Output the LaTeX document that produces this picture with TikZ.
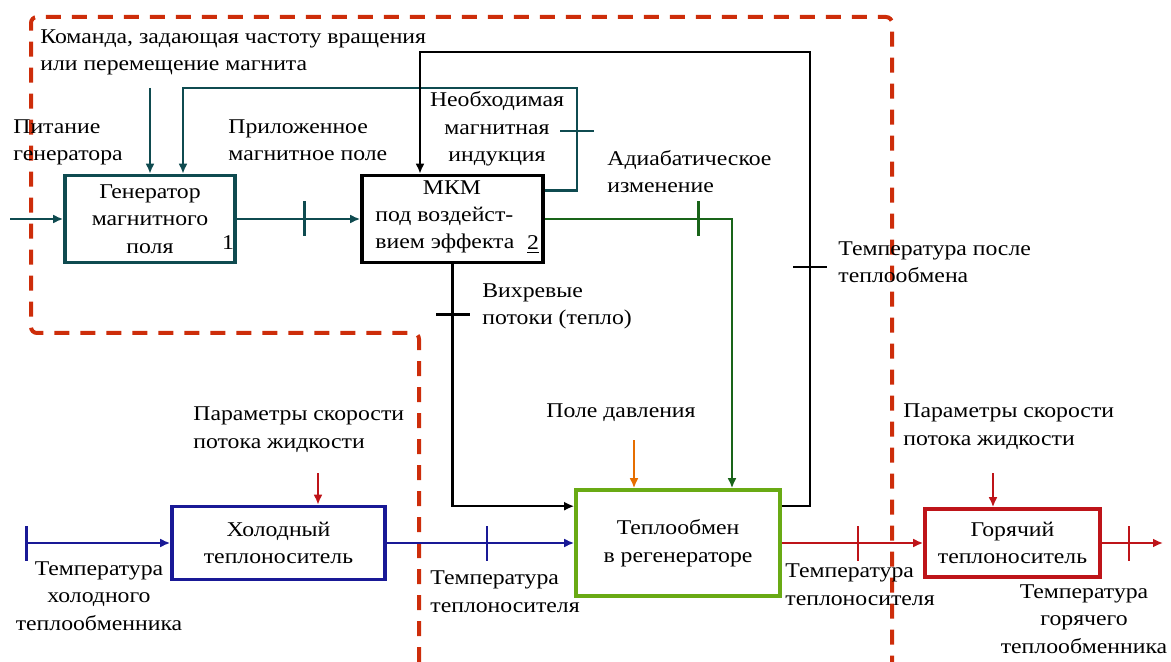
\documentclass[tikz,border=0pt]{standalone}
\usepackage{fontspec}
\setmainfont{Liberation Serif}[FakeStretch=1.13]
\usetikzlibrary{arrows.meta}

\definecolor{genteal}{RGB}{15,75,80}
\definecolor{mkmgreen}{RGB}{25,100,25}
\definecolor{coldblue}{RGB}{25,25,150}
\definecolor{hxgreen}{RGB}{105,170,20}
\definecolor{hotred}{RGB}{190,20,25}
\definecolor{prsorange}{RGB}{230,110,0}
\definecolor{bordred}{RGB}{205,45,10}

\begin{document}
\begin{tikzpicture}[x=0.5pt, y=-0.5pt,
	every node/.style={font=\fontsize{10.5}{13.75}\selectfont, inner sep=0pt},
	block/.style={draw, line width=1.8pt, fill=white},
	flow/.style={line width=1.3pt, -{Latex[length=5pt,width=4.5pt]}},
	tickv/.style={fill, minimum width=1.3pt, minimum height=17.5pt},
	tickh/.style={fill, minimum width=17pt, minimum height=1.2pt}]

	\useasboundingbox (0,0) rectangle (1171,662);

	% Draw the dashed system boundary.
	\draw[bordred, line width=2pt, dash pattern=on 7.5pt off 5.5pt, rounded corners=3pt]
		(419,662) -- (419,333) -- (31,333) -- (31,17) -- (892,17) -- (892,662);

	% Draw the blocks.
	\node[block, draw=genteal, minimum width=85pt, minimum height=43.5pt, align=center] (gen) at (150,219) {Генератор\\магнитного\\поля};
	\node[anchor=base] (gen-num) at (228,250) {1};

	\node[block, draw=black, minimum width=90.5pt, minimum height=43.5pt] (mkm) at (452.5,219) {};
	\node[anchor=base] (mkm-title) at (452,195) {МКМ};
	\node[anchor=base west, align=left] (mkm-text) at (375,249) {под воздейст-\\вием эффекта};
	\node[anchor=base] (mkm-num) at (533,250) {\underline{2}};

	\node[block, draw=coldblue, minimum width=106.5pt, minimum height=36.5pt, align=center] (cold) at (278.5,543) {Холодный\\теплоноситель};
	\node[block, draw=hxgreen, minimum width=102pt, minimum height=53pt, align=center] (hx) at (678,543) {Теплообмен\\в регенераторе};
	\node[block, draw=hotred, minimum width=87.5pt, minimum height=34pt, align=center] (hot) at (1012.5,543) {Горячий\\теплоноситель};

	% Draw the magnetic part.
	\coordinate (pwr-in) at (10,219);
	\coordinate (cmd-in) at (150,88);
	\draw[flow, genteal] (pwr-in) -- (gen.west);
	\draw[flow, genteal] (cmd-in) -- (gen.north);
	\draw[flow, genteal] (gen.east) -- node[tickv, pos=0.55] (tick-field) {} (mkm.west);
	\draw[flow, genteal] ([yshift=-8.5pt]mkm.north east) -| (577,88) -| ([xshift=16.5pt]gen.north);
	\node[tickh, genteal] (tick-ind) at (577,131) {};

	% Draw the return from the regenerator.
	\draw[flow, black, line width=1.1pt] ([yshift=-9pt]hx.north east) -| (810,52) -| ([xshift=-16.25pt]mkm.north);
	\node[tickh, black] (tick-ret) at (810,267) {};

	\draw[flow, mkmgreen] (mkm.east) -| node[tickv, pos=0.41] (tick-adia) {} ([xshift=27pt]hx.north);
	\draw[flow, black, line width=1.1pt] (mkm.south) |- node[tickh, pos=0.104] (tick-vort) {} ([yshift=-9pt]hx.north west);

	\coordinate (prs-in) at (634,440);
	\draw[flow, prsorange, line width=1pt] (prs-in) -- (prs-in |- hx.north);

	% Draw the fluid line.
	\coordinate (cold-in) at (25,543);
	\coordinate (hot-out) at (1163,543);
	\coordinate (cpar-in) at (318,473);
	\coordinate (hpar-in) at (993,473);
	\draw[flow, coldblue, {Bar[width=17.5pt]}-{Latex[length=5pt,width=4.5pt]}] (cold-in) -- (cold.west);
	\draw[flow, coldblue] (cold.east) -- node[tickv, pos=0.534] (tick-cold) {} (hx.west);
	\draw[flow, hotred] (hx.east) -- node[tickv, pos=0.538] (tick-hot) {} (hot.west);
	\draw[flow, hotred] (hot.east) -- node[tickv, pos=0.444] (tick-out) {} (hot-out);
	\draw[flow, hotred, line width=1pt] (cpar-in) -- (cpar-in |- cold.north);
	\draw[flow, hotred, line width=1pt] (hpar-in) -- (hpar-in |- hot.north);

	% Labels (base = last line).
	\node[anchor=base west, align=left] (cmd-lbl) at (40,71) {Команда, задающая частоту вращения\\или перемещение магнита};
	\node[anchor=base west, align=left] (pwr-lbl) at (13,161) {Питание\\генератора};
	\node[anchor=base west, align=left] (field-lbl) at (228,161) {Приложенное\\магнитное поле};
	\node[anchor=base, align=center] (ind-lbl) at (497,162) {Необходимая\\магнитная\\индукция};
	\node[anchor=base west, align=left] (adia-lbl) at (607,193) {Адиабатическое\\изменение};
	\node[anchor=base west, align=left] (ret-lbl) at (838,283) {Температура после\\теплообмена};
	\node[anchor=base west, align=left] (vort-lbl) at (482,325) {Вихревые\\потоки (тепло)};
	\node[anchor=base west] (prs-lbl) at (546,417) {Поле давления};
	\node[anchor=base west, align=left] (cpar-lbl) at (193,448) {Параметры скорости\\потока жидкости};
	\node[anchor=base west, align=left] (hpar-lbl) at (903,445) {Параметры скорости\\потока жидкости};
	\node[anchor=base, align=center] (cold-lbl) at (99,630) {Температура\\холодного\\теплообменника};
	\node[anchor=base west, align=left] (tc-lbl) at (430,612) {Температура\\теплоносителя};
	\node[anchor=base west, align=left] (th-lbl) at (785,605) {Температура\\теплоносителя};
	\node[anchor=base, align=center] (hot-lbl) at (1084,653) {Температура\\горячего\\теплообменника};

\end{tikzpicture}
\end{document}
